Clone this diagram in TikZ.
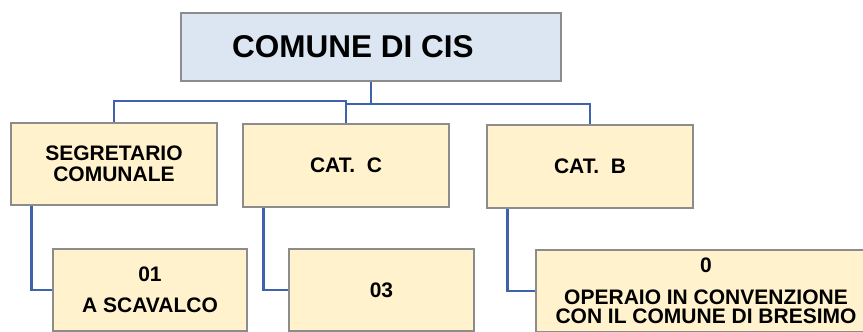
\documentclass[tikz,border=0pt]{standalone}
\usepackage{fontspec}
\setmainfont{Liberation Sans}
\definecolor{headblue}{RGB}{220,230,242}
\definecolor{boxyellow}{RGB}{255,242,204}
\definecolor{boxgray}{RGB}{140,140,140}
\definecolor{linkblue}{RGB}{62,98,172}

\begin{document}
\begin{tikzpicture}[x=1pt, y=-1pt]

\tikzstyle titlebox=[draw=boxgray, line width=1.3pt, fill=headblue, inner sep=0pt, minimum width=380pt, minimum height=68pt, font=\bfseries\fontsize{31.5}{32}\selectfont]
\tikzstyle unitbox=[draw=boxgray, line width=1.3pt, fill=boxyellow, inner sep=0pt, minimum width=206pt, minimum height=82pt, align=center, font=\bfseries\fontsize{21}{21}\selectfont]
\tikzstyle link=[draw=linkblue, line width=2.3pt]

\useasboundingbox (0,0) rectangle (863,332);

\node (top) [titlebox] at (371,47) {COMUNE DI CIS\kern36pt};
\node (segr) [unitbox] at (114,164) {SEGRETARIO\\COMUNALE};
\node (catc) [unitbox, minimum height=83pt] at (346,165.5) {CAT.\ \ C};
\node (catb) [unitbox, minimum height=83pt] at (590,166.5) {CAT.\ \ B};
\node (segrn) [unitbox, minimum width=194pt] at (150,290) {01\\[10pt]A SCAVALCO};
\node (catcn) [unitbox, minimum width=185pt] at (381.5,290) {03};
\node (catbn) [unitbox, minimum width=340pt] at (706,291) {0\\[11pt]OPERAIO IN CONVENZIONE\\[-2pt]CON IL COMUNE DI BRESIMO};

\draw [link] (top.south) -- ++(0,22) -| (catb.north);
\draw [link] (top.south) -- ++(0,22) -| (catc.north);
\draw [link] (catc.north) -- ++(0,-22.5) -| (segr.north);
\draw [link] (segrn.west) -| ([xshift=21pt]segr.south west);
\draw [link] (catcn.west) -| ([xshift=21pt]catc.south west);
\draw [link] (catbn.west) -| ([xshift=21pt]catb.south west);

\end{tikzpicture}
\end{document}
